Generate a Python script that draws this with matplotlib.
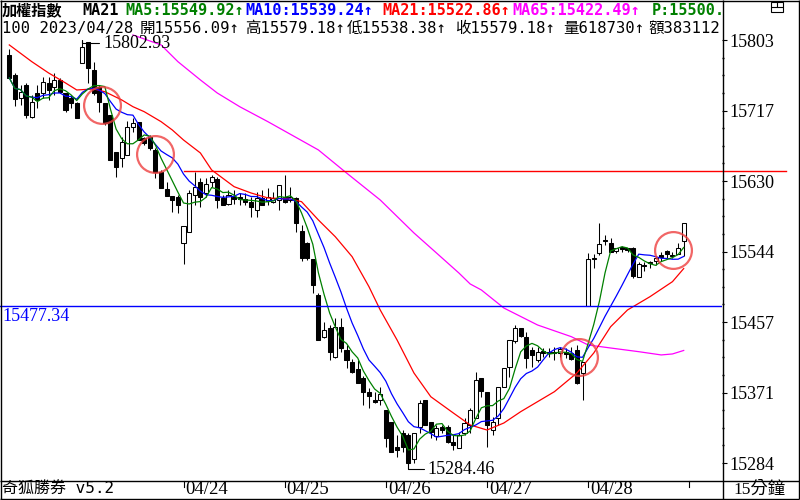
import numpy as np
import pandas as pd
import matplotlib
matplotlib.use("Agg")
import matplotlib.pyplot as plt
from matplotlib.lines import Line2D
from matplotlib.patches import Rectangle
from matplotlib.transforms import Affine2D, blended_transform_factory, offset_copy
from matplotlib.ticker import FixedLocator

# ---------------- data (TAIEX, 15-minute bars) ----------------
opens = [
    15784.6, 15760.1, 15731.9, 15747.8, 15708.6, 15738.0, 15738.0, 15750.3, 15745.4, 15754.0,
    15738.0, 15731.9, 15725.8, 15774.8, 15800.5, 15766.2, 15745.4, 15725.8, 15711.1, 15665.7,
    15658.4, 15662.0, 15696.4, 15702.5, 15682.9, 15684.1, 15668.2, 15641.2, 15620.4, 15611.8,
    15610.6, 15554.2, 15567.7, 15613.0, 15629.0, 15615.5, 15629.0, 15632.6, 15609.4, 15602.0,
    15610.6, 15610.6, 15608.1, 15604.5, 15594.6, 15609.4, 15605.7, 15604.5, 15606.9, 15610.6,
    15606.9, 15609.4, 15568.9, 15554.2, 15534.6, 15490.5, 15439.0, 15450.0, 15414.5, 15451.3,
    15423.1, 15408.4, 15399.8, 15388.8, 15371.6, 15361.8, 15361.8, 15349.5, 15334.8, 15304.2,
    15321.4, 15318.9, 15289.5, 15328.7, 15361.8, 15334.8, 15317.7, 15328.7, 15328.7, 15310.3,
    15303.0, 15321.4, 15331.2, 15339.7, 15388.8, 15371.6, 15325.0, 15339.7, 15377.7, 15402.2,
    15434.1, 15450.0, 15439.0, 15423.1, 15410.8, 15421.9, 15420.6, 15420.6, 15419.4, 15420.6,
    15419.4, 15423.1, 15394.9, 15477.34, 15535.8, 15542.0, 15557.9, 15554.2, 15544.4, 15549.3,
    15548.1, 15548.1, 15512.5, 15527.2, 15530.9, 15532.1, 15539.5, 15544.4, 15539.5, 15540.7,
    15556.09]
highs = [
    15792.0, 15762.5, 15747.8, 15750.3, 15735.6, 15747.8, 15757.6, 15757.6, 15762.5, 15756.4,
    15738.0, 15735.6, 15727.0, 15802.93, 15800.5, 15776.0, 15747.8, 15725.8, 15711.1, 15665.7,
    15684.1, 15703.7, 15707.4, 15702.5, 15684.1, 15686.6, 15670.6, 15643.7, 15629.0, 15611.8,
    15613.0, 15575.0, 15619.2, 15641.2, 15633.9, 15633.9, 15637.5, 15635.1, 15613.0, 15619.2,
    15619.2, 15615.5, 15615.5, 15610.6, 15616.7, 15619.2, 15621.6, 15616.7, 15625.3, 15637.5,
    15622.8, 15610.6, 15576.3, 15555.4, 15534.6, 15492.9, 15457.4, 15453.7, 15462.3, 15462.3,
    15429.2, 15412.0, 15410.8, 15391.2, 15376.5, 15371.6, 15377.7, 15349.5, 15334.8, 15318.9,
    15325.0, 15321.4, 15321.4, 15361.8, 15361.8, 15334.8, 15331.2, 15331.2, 15331.2, 15318.9,
    15322.6, 15339.7, 15352.0, 15396.1, 15388.8, 15371.6, 15341.0, 15377.7, 15401.0, 15435.3,
    15453.7, 15450.0, 15445.1, 15426.7, 15426.7, 15425.5, 15425.5, 15426.7, 15426.7, 15425.5,
    15426.7, 15429.2, 15408.4, 15542.0, 15540.7, 15578.7, 15564.0, 15560.3, 15548.1, 15550.5,
    15548.1, 15549.3, 15530.9, 15530.9, 15532.1, 15538.3, 15543.2, 15545.6, 15543.2, 15554.2,
    15579.18]
lows = [
    15756.4, 15722.1, 15723.3, 15707.4, 15707.4, 15719.6, 15731.9, 15729.5, 15735.6, 15738.0,
    15714.7, 15719.6, 15707.4, 15774.8, 15750.3, 15735.6, 15714.7, 15698.8, 15655.9, 15635.1,
    15647.3, 15662.0, 15690.2, 15680.4, 15674.3, 15668.2, 15633.9, 15621.6, 15611.8, 15592.2,
    15591.0, 15528.5, 15567.7, 15600.8, 15598.3, 15610.6, 15622.8, 15597.1, 15600.8, 15600.8,
    15602.0, 15600.8, 15600.8, 15586.1, 15586.1, 15600.8, 15600.8, 15603.2, 15594.6, 15603.2,
    15604.5, 15567.7, 15532.1, 15533.4, 15492.9, 15435.3, 15437.8, 15410.8, 15413.3, 15420.6,
    15401.0, 15394.9, 15382.6, 15355.7, 15352.0, 15358.1, 15355.7, 15304.2, 15298.1, 15292.0,
    15298.1, 15284.46, 15284.6, 15321.4, 15331.2, 15315.2, 15312.8, 15321.4, 15309.1, 15300.5,
    15303.0, 15318.9, 15321.4, 15339.7, 15365.5, 15304.2, 15318.9, 15331.2, 15377.7, 15390.0,
    15431.7, 15439.0, 15401.0, 15402.2, 15408.4, 15414.5, 15414.5, 15410.8, 15414.5, 15413.3,
    15410.8, 15381.4, 15361.8, 15477.34, 15523.6, 15539.5, 15551.8, 15543.2, 15542.0, 15543.2,
    15543.2, 15511.3, 15512.5, 15519.9, 15523.6, 15527.2, 15532.1, 15535.8, 15535.8, 15540.7,
    15538.38]
closes = [
    15756.4, 15730.7, 15739.3, 15711.1, 15727.0, 15729.5, 15751.5, 15741.7, 15754.0, 15739.3,
    15717.2, 15725.8, 15707.4, 15794.4, 15768.7, 15738.0, 15727.0, 15701.3, 15655.9, 15647.3,
    15678.0, 15696.4, 15701.3, 15680.4, 15676.8, 15670.6, 15641.2, 15621.6, 15611.8, 15606.9,
    15600.8, 15575.0, 15615.5, 15622.8, 15610.6, 15626.5, 15635.1, 15606.9, 15600.8, 15613.0,
    15608.1, 15608.1, 15604.5, 15598.3, 15609.4, 15600.8, 15610.6, 15609.4, 15625.3, 15604.5,
    15610.6, 15578.7, 15535.8, 15535.8, 15502.7, 15435.3, 15447.6, 15420.6, 15451.3, 15425.5,
    15410.8, 15396.1, 15382.6, 15371.6, 15366.7, 15359.4, 15369.2, 15315.2, 15298.1, 15300.5,
    15304.2, 15284.6, 15321.4, 15358.1, 15331.2, 15322.6, 15327.5, 15325.0, 15310.3, 15306.7,
    15318.9, 15333.6, 15349.5, 15386.3, 15372.8, 15331.2, 15334.8, 15377.7, 15401.0, 15435.3,
    15450.0, 15440.2, 15413.3, 15417.0, 15420.6, 15419.4, 15419.4, 15419.4, 15424.3, 15418.2,
    15412.0, 15382.6, 15408.4, 15534.6, 15534.6, 15553.0, 15556.7, 15543.2, 15548.1, 15546.9,
    15545.6, 15513.8, 15528.5, 15526.0, 15529.7, 15535.8, 15537.0, 15540.7, 15538.3, 15548.1,
    15579.18]

# longer moving averages (bar index, value)
ma21_idx = [0, 4, 7, 10, 12, 15, 17, 20, 22, 24, 27, 29, 31, 34, 36, 40, 43, 46, 50, 52,
            55, 58, 61, 64, 66, 69, 72, 75, 79, 82, 85, 88, 91, 97, 101, 104, 107, 110,
            114, 118, 120]
ma21_val = [15796.9, 15776.4, 15762.5, 15750.3, 15741.7, 15742.9, 15739.6, 15729.5,
            15721.2, 15715.1, 15702.9, 15692.7, 15680.4, 15664.5, 15643.7, 15623.2,
            15615.5, 15609.4, 15608.1, 15604.8, 15582.4, 15561.9, 15537.4, 15500.6,
            15472.1, 15435.3, 15394.9, 15365.8, 15345.9, 15331.2, 15325.0, 15333.6,
            15347.5, 15372.0, 15394.9, 15419.4, 15451.6, 15472.1, 15488.4, 15506.8,
            15522.86]
ma65_idx = [22, 27, 30, 34, 37, 41, 46, 55, 60, 66, 72, 76, 80, 82, 84, 88, 94, 100,
            103, 107, 112, 116, 118, 120]
ma65_val = [15809.1, 15796.9, 15776.4, 15754.0, 15738.0, 15721.2, 15702.9, 15668.2,
            15640.0, 15606.9, 15566.5, 15542.0, 15517.4, 15504.0, 15496.6, 15474.5,
            15453.7, 15439.4, 15429.2, 15425.5, 15421.0, 15417.0, 15418.2, 15422.49]

day_labels = ["04/24", "04/25", "04/26", "04/27", "04/28"]
bars_before_first_day = 31
bars_per_day = 18
y_tick_labels = ["15284", "15371", "15457", "15544", "15630", "15717", "15803"]

ref_red = 15642.0
ref_blue = 15477.34
circle_idx = [16.5, 26.0, 101.4, 118.1]
circle_price = [15723.0, 15663.5, 15414.9, 15545.6]

header_row1 = ["加權指數", "MA21", "MA5:15549.92↑", "MA10:15539.24↑",
               "MA21:15522.86↑", "MA65:15422.49↑", "P:15500.00"]
header_row1_colors = ["black", "black", "#008000", "#0000FF", "#FF0000", "#FF00FF", "#008000"]
header_row2 = ["100 2023/04/28", "開15556.09↑", "高15579.18↑", "低15538.38↑",
               "收15579.18↑", "量618730↑", "額383112"]
footer_left = "奇狐勝券 v5.2"
footer_right = "15分鐘"

# ---------------- figure ----------------
W, H = 800, 500
fig = plt.figure(figsize=(W / 100, H / 100), dpi=100)
fig.patch.set_facecolor("white")
PX = Affine2D().scale(1, -1).translate(0, H)  # pixel coords, origin top-left

PLOT_R, PLOT_B = 722, 480
ax = fig.add_axes([0, 1 - PLOT_B / H, PLOT_R / W, PLOT_B / H])
ax.set_facecolor("white")
for s in ax.spines.values():
    s.set_visible(False)

o = np.array(opens); h = np.array(highs); l = np.array(lows); c = np.array(closes)
n = len(c)
idx = np.arange(n)
lo, hi = l.min(), h.max()
ppx = (hi - lo) / (463.1 - 40.0)
ax.set_ylim(lo - (PLOT_B - 463.1) * ppx, hi + 40.0 * ppx)
bar_px, x0_px = 5.62, 9.3
ax.set_xlim(-x0_px / bar_px, (PLOT_R - x0_px) / bar_px)

# candles
lw1 = 0.75
ax.vlines(idx, l, h, color="black", lw=lw1, zorder=2)
up = c >= o
body_b = np.minimum(o, c)
body_h = np.maximum(np.abs(c - o), 0.9)
ax.bar(idx[up], body_h[up], bottom=body_b[up], width=0.72, facecolor="white",
       edgecolor="black", linewidth=lw1, zorder=3)
ax.bar(idx[~up], body_h[~up], bottom=body_b[~up], width=0.72, facecolor="black",
       edgecolor="black", linewidth=lw1, zorder=3)

# moving averages
cs = pd.Series(c)
ma5 = cs.rolling(5, min_periods=1).mean()
ma10 = cs.rolling(10, min_periods=1).mean()
ax.plot(ma65_idx, ma65_val, color="#FF00FF", lw=0.9, zorder=4)
ax.plot(ma21_idx, ma21_val, color="#FF0000", lw=0.9, zorder=4)
ax.plot(idx, ma10, color="#0000FF", lw=0.9, zorder=4)
ax.plot(idx, ma5, color="#008000", lw=0.9, zorder=4)

# reference lines
first_day = bars_before_first_day
ax.plot([first_day, (786 - x0_px) / bar_px], [ref_red, ref_red], color="#FF0000",
        lw=1.0, clip_on=False, zorder=4)
ax.axhline(ref_blue, color="#0000FF", lw=1.0, zorder=4)
ax.annotate(f"{ref_blue:.2f}", xy=(0, ref_blue),
            xycoords=blended_transform_factory(ax.transAxes, ax.transData),
            xytext=(1.5, -7.5), textcoords="offset points", ha="left", va="center",
            color="#0000FF", fontsize=13, family="Liberation Serif", zorder=5)

# extreme labels
i_hi = int(np.argmax(h)); i_lo = int(np.argmin(l))
ax.annotate(f"{hi:.2f}", xy=(i_hi, hi), xytext=(15, -2.5), textcoords="offset points",
            ha="left", va="center", fontsize=13, family="Liberation Serif",
            arrowprops=dict(arrowstyle="-", lw=0.8, color="black", shrinkA=1, shrinkB=0,
                            connectionstyle="angle,angleA=0,angleB=90,rad=0"),
            zorder=5)
ax.annotate(f"{lo:.2f}", xy=(i_lo, lo), xytext=(14, -4.5), textcoords="offset points",
            ha="left", va="center", fontsize=13, family="Liberation Serif",
            arrowprops=dict(arrowstyle="-", lw=0.8, color="black", shrinkA=1, shrinkB=0,
                            connectionstyle="angle,angleA=0,angleB=90,rad=0"),
            zorder=5)

# highlight circles
ax.plot(circle_idx, circle_price, "o", ms=26.5, mfc="none", mec="#EE4040",
        mew=1.6, alpha=0.8, zorder=6)

# y axis on the right
yt = np.linspace(lo, hi, len(y_tick_labels))
ax.yaxis.tick_right()
ax.set_yticks(yt)
ax.set_yticklabels(y_tick_labels)
ax.yaxis.set_minor_locator(FixedLocator(np.linspace(lo, hi, 4 * (len(yt) - 1) + 1)))
ax.tick_params(axis="y", which="major", length=3.8, width=0.8, pad=1.5,
               labelsize=13, direction="out")
ax.tick_params(axis="y", which="minor", length=1.3, width=1.0, direction="out")
for t in ax.get_yticklabels():
    t.set_fontfamily("Liberation Serif")
ax.set_xticks([])

# date strip
blend = blended_transform_factory(ax.transData, fig.transFigure)
day_starts = [first_day + k * bars_per_day for k in range(len(day_labels) + 1)]
for k, d in enumerate(day_starts):
    ax.plot([d, d], [1 - 481 / H, 1 - 487 / H], transform=blend, clip_on=False,
            color="black", lw=0.8)
    if k < len(day_labels):
        ax.text(d, 1 - 489.5 / H, day_labels[k],
                transform=offset_copy(blend, fig=fig, x=2, y=0, units="dots"),
                ha="left", va="center", fontsize=13.5, family="Liberation Serif")

fam_hdr = ["DejaVu Sans Mono", "Noto Sans CJK TC"]
fam_cjk = ["Liberation Serif", "Noto Sans CJK TC"]
fig.text(2 / W, 1 - 489.5 / H, footer_left, ha="left", va="center", fontsize=11.5,
         family=fam_hdr)
fig.text(760 / W, 1 - 489.5 / H, footer_right, ha="center", va="center", fontsize=12.5,
         family=fam_cjk)

# header rows (clipped at the price-axis separator)
row1_x = [2, 82, 125, 245, 382, 512, 652]
row2_x = [2, 140, 245, 347, 455, 563, 648]
for s, col, x in zip(header_row1, header_row1_colors, row1_x):
    ax.text(x, 10.5, s, transform=PX, ha="left", va="center", color=col,
            fontsize=10.9, fontweight="bold", family=fam_hdr, clip_on=True, zorder=7)
for s, x in zip(header_row2, row2_x):
    ax.text(x, 28, s, transform=PX, ha="left", va="center", color="black",
            fontsize=11.2, family=fam_hdr, clip_on=True, zorder=7)

# frame lines
def pline(x0, y0, x1, y1, lw=1.0):
    fig.add_artist(Line2D([x0 / W, x1 / W], [1 - y0 / H, 1 - y1 / H],
                          transform=fig.transFigure, color="black", lw=lw,
                          solid_capstyle="butt"))

pline(0.5, 0, 0.5, 499)
pline(0, 0.5, 799, 0.5)
pline(798.5, 0, 798.5, 499)
pline(0, 498.5, 799, 498.5)
pline(722.5, 0, 722.5, 499)
pline(0, 480.5, 799, 480.5)
# small window icon at the top right
fig.add_artist(Rectangle((771 / W, 1 - 12 / H), 12 / W, 10 / H, transform=fig.transFigure,
                         fill=False, edgecolor="black", lw=0.8))
pline(771, 7, 783, 7, lw=0.8)
pline(777, 2, 777, 7, lw=0.8)

fig.savefig("out.png", dpi=100, facecolor="white")
